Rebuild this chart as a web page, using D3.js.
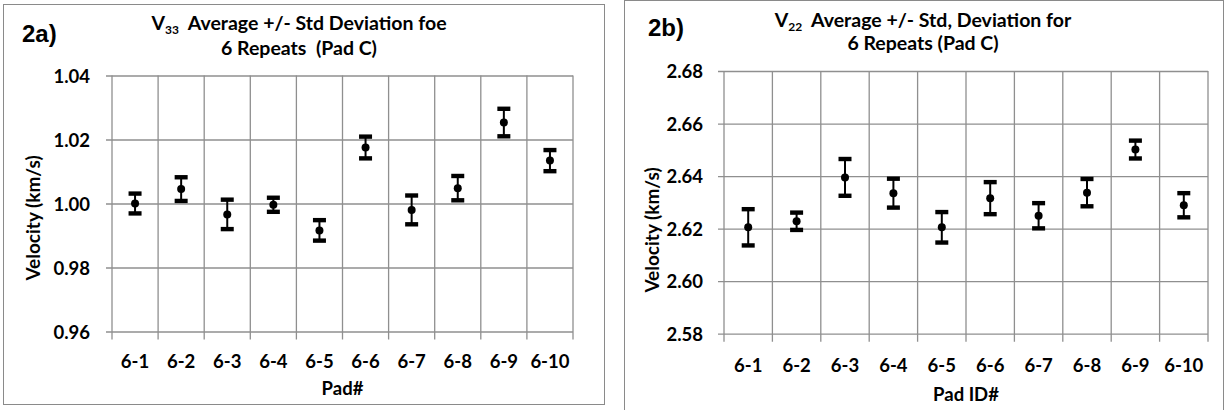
<!DOCTYPE html>
<html>
<head>
<meta charset="utf-8">
<script src="https://cdn.jsdelivr.net/npm/d3@7"></script>
<style>
  html, body { margin: 0; padding: 0; background: #fff; }
  svg { display: block; }
  text { font-family: Lato, "Open Sans", sans-serif; font-weight: bold; fill: #000; white-space: pre; }
</style>
</head>
<body>
<svg id="chart" width="1228" height="410"></svg>
<script>
// pad labels shared by both panels
const pads = ['6-1', '6-2', '6-3', '6-4', '6-5', '6-6', '6-7', '6-8', '6-9', '6-10'];

// 2a) V33
const v33Mean = [1.0000, 1.0045, 0.9966, 0.9996, 0.9916, 1.0175, 0.9980, 1.0048, 1.0253, 1.0134];
const v33Std  = [0.0031, 0.0037, 0.0046, 0.0022, 0.0032, 0.0034, 0.0045, 0.0038, 0.0043, 0.0033];
const v33Ticks = [0.96, 0.98, 1.00, 1.02, 1.04];

// 2b) V22
const v22Mean = [2.6205, 2.6228, 2.6395, 2.6335, 2.6205, 2.6316, 2.6249, 2.6337, 2.6501, 2.6289];
const v22Std  = [0.0069, 0.0033, 0.0070, 0.0055, 0.0058, 0.0061, 0.0048, 0.0052, 0.0034, 0.0046];
const v22Ticks = [2.58, 2.60, 2.62, 2.64, 2.66, 2.68];

const svg = d3.select('#chart');

function drawPanel(p) {
    const g = svg.append('g');

    g.append('rect')
        .attr('x', p.box[0] + 0.5).attr('y', p.box[1] + 0.5)
        .attr('width', p.box[2]).attr('height', p.box[3])
        .attr('fill', '#fff').attr('stroke', '#8a8a8a').attr('stroke-width', 1);

    const x = d3.scaleBand().domain(pads).range([p.left, p.right]);
    const y = d3.scaleLinear().domain(d3.extent(p.ticks)).range([p.bottom, p.top]);

    // horizontal gridlines + y ticks
    const yAxis = d3.axisLeft(y).tickValues(p.ticks).tickFormat(d3.format('.2f'))
        .tickSize(-(p.right - p.left)).tickSizeOuter(0).tickPadding(0);
    const ya = g.append('g').attr('transform', `translate(${p.left},0)`).call(yAxis);
    ya.select('.domain').remove();
    ya.selectAll('.tick line').attr('x1', -6).attr('stroke', '#8f8f8f').attr('stroke-width', 1.3);
    ya.selectAll('.tick text')
        .attr('x', p.yLabelRight - p.left).attr('dy', '0.36em')
        .style('font-size', '18.5px').style('font-family', null).attr('fill', '#000');

    // vertical gridlines at category boundaries, extended below as tick marks
    const bounds = pads.map(d => x(d)).concat([p.right]);
    g.append('g').selectAll('line')
        .data(bounds)
        .join('line')
        .attr('x1', d => d).attr('x2', d => d)
        .attr('y1', p.top).attr('y2', p.bottom + 8)
        .attr('stroke', '#8f8f8f').attr('stroke-width', 1.3);

    // x tick labels
    g.append('g').selectAll('text')
        .data(pads)
        .join('text')
        .attr('x', d => x(d) + x.bandwidth() / 2)
        .attr('y', p.xLabelBase)
        .attr('text-anchor', 'middle')
        .style('font-size', '18.5px')
        .text(d => d);

    // error bars
    const bars = g.append('g').selectAll('g')
        .data(pads.map((d, i) => ({ pad: d, m: p.mean[i], s: p.std[i] })))
        .join('g')
        .attr('transform', d => `translate(${x(d.pad) + x.bandwidth() / 2},0)`);
    bars.append('line')
        .attr('y1', d => y(d.m + d.s)).attr('y2', d => y(d.m - d.s))
        .attr('stroke', '#000').attr('stroke-width', 2);
    bars.selectAll('rect.cap')
        .data(d => [d.m + d.s, d.m - d.s])
        .join('rect')
        .attr('class', 'cap')
        .attr('x', -6.5).attr('width', 13)
        .attr('y', v => y(v) - 2.2).attr('height', 4.4)
        .attr('fill', '#000');
    bars.append('circle')
        .attr('cy', d => y(d.m)).attr('r', 4)
        .attr('fill', '#000');

    // titles
    const t = g.append('text').attr('x', p.titleX).attr('y', p.titleBase[0])
        .attr('text-anchor', 'middle').style('font-size', '19.5px');
    t.append('tspan').text('V');
    t.append('tspan').attr('dy', 4).style('font-size', '12px').text(p.sub);
    t.append('tspan').attr('dy', -4).text(p.title1);
    g.append('text').attr('x', p.titleX).attr('y', p.titleBase[1])
        .attr('text-anchor', 'middle').style('font-size', '19.5px')
        .text(p.title2);

    g.append('text').attr('x', p.tag[0]).attr('y', p.tag[1])
        .style('font-family', 'Liberation Sans, Arial, sans-serif')
        .style('font-size', '24px')
        .text(p.tagText);

    g.append('text')
        .attr('transform', `translate(${p.yTitle[0]},${p.yTitle[1]}) rotate(-90)`)
        .attr('text-anchor', 'middle').style('font-size', '19px')
        .text('Velocity (km/s)');

    g.append('text').attr('x', (p.left + p.right) / 2).attr('y', p.xTitleBase)
        .attr('text-anchor', 'middle').style('font-size', '18.5px')
        .text(p.xTitle);
}

drawPanel({
    box: [3, 4, 601, 400],
    left: 112, right: 573, top: 75.5, bottom: 331.5,
    ticks: v33Ticks, mean: v33Mean, std: v33Std,
    yLabelRight: 90, xLabelBase: 368, xTitleBase: 395,
    titleX: 299, titleBase: [30, 55], sub: '33',
    title1: '  Average +/- Std Deviation foe', title2: '6 Repeats  (Pad C)',
    tag: [22, 42], tagText: '2a)',
    yTitle: [40, 218], xTitle: 'Pad#'
});

drawPanel({
    box: [624, 0, 599, 420],
    left: 724, right: 1208, top: 71, bottom: 333.7,
    ticks: v22Ticks, mean: v22Mean, std: v22Std,
    yLabelRight: 703, xLabelBase: 372, xTitleBase: 401,
    titleX: 923, titleBase: [27, 50], sub: '22',
    title1: '  Average +/- Std, Deviation for', title2: '6 Repeats (Pad C)',
    tag: [648, 36], tagText: '2b)',
    yTitle: [659, 230], xTitle: 'Pad ID#'
});
</script>
</body>
</html>
